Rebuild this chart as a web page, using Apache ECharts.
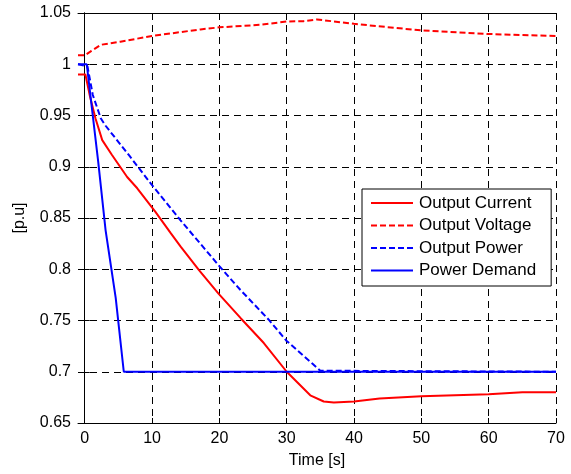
<!DOCTYPE html>
<html>
<head>
<meta charset="utf-8">
<script src="https://cdn.jsdelivr.net/npm/echarts@6/dist/echarts.min.js"></script>
<style>html,body{margin:0;padding:0;background:#fff}#c{width:571px;height:474px}</style>
</head>
<body>
<div id="c"></div>
<script>
var xTicks = [0, 10, 20, 30, 40, 50, 60, 70];

var currentT = [-1, 0.1, 0.8, 1.6, 2.6, 4, 6.3, 7.8, 10.5, 12.8, 14.25, 17, 19.9, 23.2, 26.6, 30, 33.5, 35.5, 37, 40, 43.8, 50, 55, 60, 65, 70];
var currentV = [0.99, 0.99, 0.968, 0.947, 0.926, 0.912, 0.890, 0.879, 0.856, 0.835, 0.822, 0.799, 0.776, 0.752, 0.728, 0.700, 0.677, 0.671, 0.670, 0.671, 0.674, 0.676, 0.677, 0.678, 0.680, 0.680];

var voltageT = [-1, 0, 1, 2.4, 5.3, 10, 17.2, 20, 26.1, 30, 32.5, 34.5, 40, 50, 60, 70];
var voltageV = [1.0087, 1.0087, 1.013, 1.019, 1.022, 1.0276, 1.034, 1.036, 1.0385, 1.0417, 1.042, 1.0437, 1.0394, 1.033, 1.0295, 1.0276];

var powerT = [-1, 0.4, 1.2, 2.4, 3.1, 6.6, 10, 14.2, 20, 23.1, 27.3, 30, 33.8, 35, 70];
var powerV = [1.0, 0.998, 0.97, 0.947, 0.94, 0.911, 0.882, 0.848, 0.803, 0.780, 0.751, 0.730, 0.708, 0.701, 0.7];

var demandT = [-1, 0.3, 2, 3.1, 4.6, 5.8, 70];
var demandV = [1, 1, 0.905, 0.838, 0.772, 0.7, 0.7];

function pairs(t, v) { return t.map(function (x, i) { return [x, v[i]]; }); }

var FONT = 'Liberation Sans';
var chart = echarts.init(document.getElementById('c'));
var gridLine = { show: true, lineStyle: { color: '#000', width: 1, type: [7, 5] } };
var axisLine = { show: true, lineStyle: { color: '#000', width: 1 } };

chart.setOption({
  animation: false,
  backgroundColor: '#fff',
  textStyle: { fontFamily: FONT },
  grid: { left: 78, right: 15, top: 13, bottom: 48, containLabel: false },
  legend: {
    left: 362, top: 189,
    orient: 'vertical',
    backgroundColor: '#fff',
    borderColor: '#000', borderWidth: 1, borderRadius: 0,
    padding: [5.5, 15, 7, 8],
    itemWidth: 42, itemHeight: 14, itemGap: 5.5,
    itemStyle: { opacity: 0 },
    textStyle: { fontFamily: FONT, fontSize: 17, color: '#000', padding: [0, 0, 0, 1] },
    data: ['Output Current', 'Output Voltage', 'Output Power', 'Power Demand']
  },
  xAxis: [{
    type: 'value', min: -1, max: 70, position: 'bottom',
    name: 'Time [s]', nameLocation: 'middle', nameGap: 30,
    nameTextStyle: { fontFamily: FONT, fontSize: 16, color: '#000' },
    axisLine: axisLine,
    axisTick: { show: true, inside: true, length: 5, lineStyle: { color: '#000' }, customValues: xTicks },
    axisLabel: { show: true, margin: 8, fontFamily: FONT, fontSize: 16, color: '#000', customValues: xTicks },
    splitLine: gridLine
  }, {
    type: 'value', min: -1, max: 70, position: 'top',
    axisLine: axisLine,
    axisTick: { show: true, inside: true, length: 5, lineStyle: { color: '#000' }, customValues: xTicks },
    axisLabel: { show: false, customValues: xTicks },
    splitLine: { show: false }
  }],
  yAxis: [{
    type: 'value', min: 0.65, max: 1.05, interval: 0.05, position: 'left',
    name: '[p.u]', nameLocation: 'middle', nameGap: 50,
    nameTextStyle: { fontFamily: FONT, fontSize: 16, color: '#000' },
    axisLine: axisLine,
    axisTick: { show: true, inside: true, length: 5, lineStyle: { color: '#000' } },
    axisLabel: { show: true, margin: 7, fontFamily: FONT, fontSize: 16, color: '#000',
      formatter: function (v) { return String(Math.round(v * 100) / 100); } },
    splitLine: gridLine
  }, {
    type: 'value', min: 0.65, max: 1.05, interval: 0.05, position: 'right',
    axisLine: axisLine,
    axisTick: { show: true, inside: true, length: 5, lineStyle: { color: '#000' } },
    axisLabel: { show: false },
    splitLine: { show: false }
  }],
  series: [{
    name: 'Output Current', type: 'line', symbol: 'none', z: 3,
    itemStyle: { color: '#ff0000' },
    lineStyle: { color: '#ff0000', width: 2, type: 'solid' },
    data: pairs(currentT, currentV)
  }, {
    name: 'Output Voltage', type: 'line', symbol: 'none', z: 3,
    itemStyle: { color: '#ff0000' },
    lineStyle: { color: '#ff0000', width: 2, type: [6, 3] },
    data: pairs(voltageT, voltageV)
  }, {
    name: 'Output Power', type: 'line', symbol: 'none', z: 3,
    itemStyle: { color: '#0000ff' },
    lineStyle: { color: '#0000ff', width: 2, type: [6, 3] },
    data: pairs(powerT, powerV)
  }, {
    name: 'Power Demand', type: 'line', symbol: 'none', z: 4,
    itemStyle: { color: '#0000ff' },
    lineStyle: { color: '#0000ff', width: 2, type: 'solid' },
    data: pairs(demandT, demandV)
  }]
});
</script>
</body>
</html>
